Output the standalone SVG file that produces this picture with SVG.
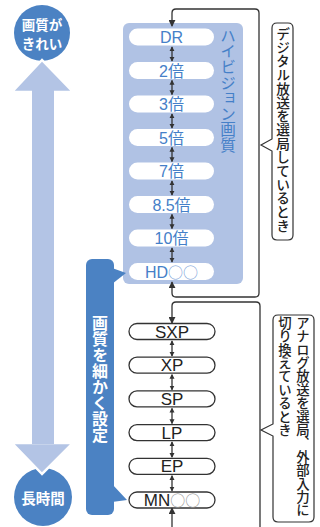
<svg xmlns="http://www.w3.org/2000/svg" width="320" height="527" viewBox="0 0 320 527">
<defs>
<style>
.bp{fill:#fff;}
.kp{fill:#fff;stroke:#333;stroke-width:1.3;}
.bt{font-family:"Liberation Sans","Noto Sans CJK JP",sans-serif;font-size:16px;fill:#4580c8;text-anchor:middle;}
.kt{font-family:"Liberation Sans","Noto Sans CJK JP",sans-serif;font-size:17px;fill:#222;text-anchor:middle;}
.jp{font-family:"Noto Sans CJK JP",sans-serif;}
.cir{font-family:"Noto Sans CJK JP",sans-serif;font-size:15px;}
.vt{writing-mode:vertical-rl;}
.ln{fill:none;stroke:#333;stroke-width:1.3;}
.dbl{fill:none;stroke:#333;stroke-width:1.3;marker-start:url(#ah);marker-end:url(#ah);}
.lbl{fill:#fff;stroke:#333;stroke-width:1.2;}
</style>
<marker id="ah" viewBox="0 0 6 6" refX="5" refY="3" markerWidth="5" markerHeight="6" orient="auto-start-reverse" markerUnits="userSpaceOnUse"><path d="M0,0 L6,3 L0,6 Z" fill="#333"/></marker>
<marker id="ar" viewBox="0 0 8 8" refX="7" refY="4" markerWidth="7" markerHeight="7" orient="auto" markerUnits="userSpaceOnUse"><path d="M0,0 L8,4 L0,8 Z" fill="#333"/></marker>
</defs>

<g id="quality-axis">
<rect x="32" y="90" width="22" height="355" fill="#b3c4e5"/>
<circle cx="42" cy="33" r="28" fill="#4b82c3"/>
<polygon points="42,60 12,92 73,92" fill="#b3c4e5" stroke="#fff" stroke-width="2.5" stroke-linejoin="miter"/>
<rect x="32" y="88" width="22" height="6" fill="#b3c4e5"/>
<text class="jp" font-size="13.5" font-weight="700" fill="#fff" text-anchor="middle"><tspan x="42" y="29.5">画質が</tspan><tspan x="42" y="48.5">きれい</tspan></text>
<circle cx="43" cy="497" r="29" fill="#4b82c3"/>
<polygon points="42,474 12,443 73,443" fill="#b3c4e5" stroke="#fff" stroke-width="2.5"/>
<rect x="32" y="438" width="22" height="6" fill="#b3c4e5"/>
<text class="jp" x="43" y="504" font-size="14.5" font-weight="700" fill="#fff" text-anchor="middle">長時間</text>
</g>

<g id="hd-panel">
<rect x="123" y="23" width="120" height="261" rx="6" fill="#b0c2e4"/>
<text class="jp vt" x="228" y="28" font-size="15.6" fill="#4580c8">ハイビジョン画質</text>
</g>

<g id="hd-modes">
<rect class="bp" x="129" y="28.5" width="85" height="17" rx="8.5"/><text class="bt" x="171.5" y="43">DR</text>
<rect class="bp" x="129" y="62" width="85" height="17" rx="8.5"/><text class="bt" x="171.5" y="76.5">2倍</text>
<rect class="bp" x="129" y="95.5" width="85" height="17" rx="8.5"/><text class="bt" x="171.5" y="110">3倍</text>
<rect class="bp" x="129" y="129" width="85" height="17" rx="8.5"/><text class="bt" x="171.5" y="143.5">5倍</text>
<rect class="bp" x="129" y="162.5" width="85" height="17" rx="8.5"/><text class="bt" x="171.5" y="177">7倍</text>
<rect class="bp" x="129" y="196" width="85" height="17" rx="8.5"/><text class="bt" x="171.5" y="210.5">8.5倍</text>
<rect class="bp" x="129" y="229.5" width="85" height="17" rx="8.5"/><text class="bt" x="171.5" y="244">10倍</text>
<rect class="bp" x="129" y="263" width="85" height="17" rx="8.5"/><text class="bt" x="171.5" y="277.5">HD<tspan class="cir" fill="#7fa6da">○○</tspan></text>
</g>

<g id="std-modes">
<rect class="kp" x="129" y="323.5" width="86" height="16" rx="8"/><text class="kt" x="172" y="337.5">SXP</text>
<rect class="kp" x="129" y="357.2" width="86" height="16" rx="8"/><text class="kt" x="172" y="371.2">XP</text>
<rect class="kp" x="129" y="390.9" width="86" height="16" rx="8"/><text class="kt" x="172" y="404.9">SP</text>
<rect class="kp" x="129" y="424.6" width="86" height="16" rx="8"/><text class="kt" x="172" y="438.6">LP</text>
<rect class="kp" x="129" y="458.3" width="86" height="16" rx="8"/><text class="kt" x="172" y="472.3">EP</text>
<rect class="kp" x="129" y="492" width="86" height="16" rx="8"/><text class="kt" x="172" y="506">MN<tspan class="cir" fill="#999">○○</tspan></text>
</g>

<g id="fine-setting">
<rect x="86" y="259" width="28" height="256" rx="6" fill="#4b82c3"/>
<polygon points="112,268 126,273 112,284" fill="#4b82c3"/>
<polygon points="112,484 127,500 112,502" fill="#4b82c3"/>
<text class="jp vt" x="100" y="315" font-size="16" font-weight="700" fill="#fff">画質を細かく設定</text>
</g>

<g id="digital-label">
<path class="lbl" d="M277,23 H288 Q293,23 293,28 V235 Q293,240 288,240 H277 Q272,240 272,235 V151 L261,145 L272,139 V28 Q272,23 277,23 Z"/>
<text class="jp vt" x="283" y="27" font-size="13.7" font-weight="500" fill="#222">デジタル放送を選局しているとき</text>
</g>

<g id="analog-label">
<path class="lbl" d="M278,315 H309 Q314,315 314,320 V517 Q314,522 309,522 H278 Q273,522 273,517 V436 L261,430 L273,424 V320 Q273,315 278,315 Z"/>
<text class="jp vt" x="303" y="316" font-size="13.4" font-weight="500" fill="#222">アナログ放送を選局、外部入力に</text>
<text class="jp vt" x="285" y="316" font-size="13.4" font-weight="500" fill="#222">切り換えているとき</text>
</g>

<g id="connectors">
<path class="ln" d="M172,13 Q172,9 176,9 H255 Q259,9 259,13 V293 Q259,297 255,297 H176 Q172,297 172,293 V282" marker-end="url(#ar)"/>
<path class="ln" d="M172,13 V26" marker-end="url(#ar)"/>
<path class="ln" d="M260,527 V306 Q260,302 256,302 H176 Q172,302 172,306 V323" marker-end="url(#ar)"/>
<path class="ln" d="M172,527 V508" marker-end="url(#ar)"/>
<path class="dbl" d="M172,47 V61"/>
<path class="dbl" d="M172,80.5 V94.5"/>
<path class="dbl" d="M172,114 V128"/>
<path class="dbl" d="M172,147.5 V161.5"/>
<path class="dbl" d="M172,181 V195"/>
<path class="dbl" d="M172,214.5 V228.5"/>
<path class="dbl" d="M172,248 V262"/>
<path class="dbl" d="M172,341 V356"/>
<path class="dbl" d="M172,374.7 V389.7"/>
<path class="dbl" d="M172,408.4 V423.4"/>
<path class="dbl" d="M172,442.1 V457.1"/>
<path class="dbl" d="M172,475.8 V490.8"/>
</g>
</svg>
